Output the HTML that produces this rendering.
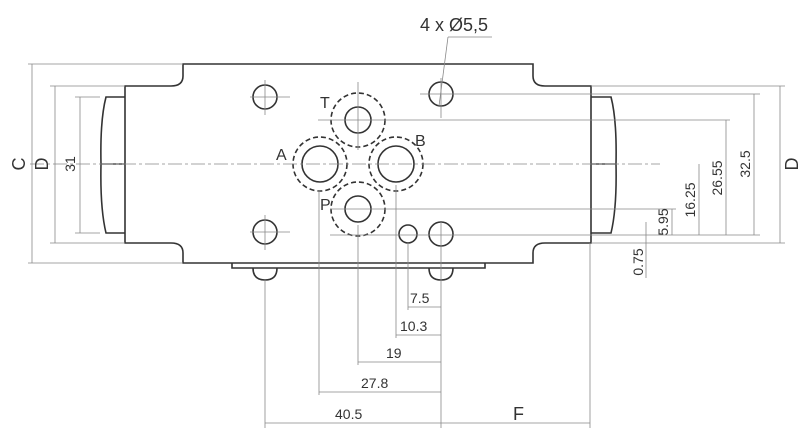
<!DOCTYPE html>
<html><head><meta charset="utf-8"><style>html,body{margin:0;padding:0;background:#fff}svg{display:block}text{font-family:"Liberation Sans",sans-serif;fill:#333}</style></head><body>
<svg width="800" height="447" viewBox="0 0 800 447" xmlns="http://www.w3.org/2000/svg">
<g fill="none" stroke="#333" stroke-width="1.6">
<path d="M183,64 H533 V76 Q533,86 545,86 H591 V243 H545 Q533,243 533,253 V263 H183 V253 Q183,243 171,243 H125 V86 H171 Q183,86 183,76 Z"/>
<path d="M125,97 H106 Q100,120 101,164 Q100,208 106,233 H125"/>
<path d="M591,97 H611 Q617,120 616,164 Q617,208 611,233 H591"/>
<line x1="101" y1="164" x2="125" y2="164" stroke-width="1.2"/>
<line x1="591" y1="164" x2="616" y2="164" stroke-width="1.2"/>
<path d="M232,263 V268 H485 V263"/>
<path d="M253,268 Q253,280 265,280 Q277,280 277,268"/>
<path d="M429,268 Q429,280 441,280 Q453,280 453,268"/>
<circle cx="265" cy="97" r="12"/><circle cx="265" cy="232" r="12"/>
<circle cx="441" cy="94" r="12"/><circle cx="441" cy="234" r="12"/>
<circle cx="408" cy="234" r="9"/>
<circle cx="358" cy="120" r="13"/><circle cx="358" cy="209" r="13"/>
<circle cx="320" cy="164" r="18"/><circle cx="396" cy="164" r="18"/>
</g>
<g fill="none" stroke="#333" stroke-width="1.6" stroke-dasharray="5,3">
<circle cx="358" cy="120" r="27"/><circle cx="358" cy="209" r="27"/>
<circle cx="320" cy="164" r="27"/><circle cx="396" cy="164" r="27"/>
</g>
<g stroke="#888" stroke-width="0.8" fill="none">
<line x1="30" y1="164" x2="660" y2="164" stroke-dasharray="14,3,3,3"/>
<line x1="250" y1="97" x2="290" y2="97"/><line x1="265" y1="80" x2="265" y2="115"/>
<line x1="250" y1="232" x2="290" y2="232"/><line x1="265" y1="215" x2="265" y2="250"/>
<line x1="420" y1="94" x2="760" y2="94"/><line x1="441" y1="78" x2="441" y2="118"/>
<line x1="318" y1="120" x2="730" y2="120"/><line x1="358" y1="82" x2="358" y2="150"/>
<line x1="330" y1="209" x2="676" y2="209"/>
<line x1="330" y1="235" x2="760" y2="235"/>
<line x1="28" y1="64" x2="183" y2="64"/><line x1="28" y1="263" x2="183" y2="263"/>
<line x1="50" y1="86" x2="125" y2="86"/><line x1="50" y1="243" x2="125" y2="243"/>
<line x1="75" y1="97" x2="100" y2="97"/><line x1="75" y1="233" x2="100" y2="233"/>
<line x1="32" y1="64" x2="32" y2="263"/><line x1="55" y1="86" x2="55" y2="243"/><line x1="80" y1="97" x2="80" y2="233"/>
<line x1="591" y1="86" x2="785" y2="86"/><line x1="591" y1="243" x2="785" y2="243"/>
<line x1="780" y1="86" x2="780" y2="243"/>
<line x1="754" y1="94" x2="754" y2="235"/>
<line x1="726" y1="120" x2="726" y2="235"/>
<line x1="699" y1="164" x2="699" y2="235"/>
<line x1="672" y1="209" x2="672" y2="235"/>
<line x1="646" y1="222" x2="646" y2="278"/>
<line x1="265" y1="280" x2="265" y2="428"/>
<line x1="319" y1="190" x2="319" y2="395"/>
<line x1="358" y1="225" x2="358" y2="365"/>
<line x1="396" y1="185" x2="396" y2="338"/>
<line x1="408" y1="243" x2="408" y2="310"/>
<line x1="441" y1="222" x2="441" y2="428"/>
<line x1="590" y1="243" x2="590" y2="428"/>
<line x1="408" y1="307" x2="441" y2="307"/>
<line x1="396" y1="335" x2="441" y2="335"/>
<line x1="358" y1="362" x2="441" y2="362"/>
<line x1="319" y1="392" x2="441" y2="392"/>
<line x1="265" y1="423" x2="590" y2="423"/>
<polyline points="448,37 492,37"/>
<line x1="448" y1="37" x2="439" y2="106"/>
</g>
<g fill="#333" font-size="14">
<text x="410" y="303">7.5</text>
<text x="400" y="331">10.3</text>
<text x="386" y="358">19</text>
<text x="361" y="388">27.8</text>
<text x="335" y="419">40.5</text>
<text x="513" y="420" font-size="18">F</text>
<text x="420" y="31" font-size="18">4 x Ø5,5</text>
<text x="320" y="108" font-size="16">T</text>
<text x="276" y="160" font-size="16">A</text>
<text x="415" y="146" font-size="16">B</text>
<text x="320" y="210" font-size="16">P</text>
<text transform="translate(25,164) rotate(-90)" text-anchor="middle" font-size="18">C</text>
<text transform="translate(48,164) rotate(-90)" text-anchor="middle" font-size="18">D</text>
<text transform="translate(75,164) rotate(-90)" text-anchor="middle">31</text>
<text transform="translate(798,164) rotate(-90)" text-anchor="middle" font-size="18">D</text>
<text transform="translate(750,164) rotate(-90)" text-anchor="middle">32.5</text>
<text transform="translate(722,178) rotate(-90)" text-anchor="middle">26.55</text>
<text transform="translate(695,200) rotate(-90)" text-anchor="middle">16.25</text>
<text transform="translate(668,222) rotate(-90)" text-anchor="middle">5.95</text>
<text transform="translate(643,262) rotate(-90)" text-anchor="middle">0.75</text>
</g>
</svg>
</body></html>
